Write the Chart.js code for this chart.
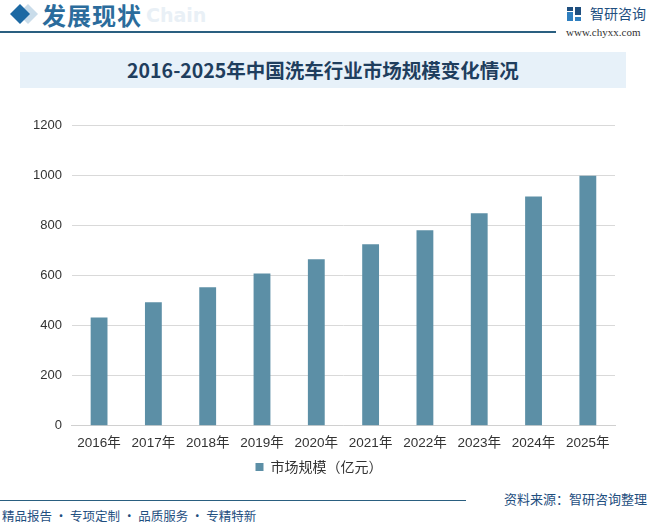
<!DOCTYPE html>
<html>
<head>
    <meta charset="utf-8">
    <title>洗车行业市场规模</title>
    <script src="https://cdn.jsdelivr.net/npm/chart.js"></script>
    <style>
        body { margin: 0; width: 648px; height: 524px; position: relative; background: #fff; font-family: "Noto Sans CJK SC", sans-serif; overflow: hidden; }
        .abs { position: absolute; }
        .head-title { left: 42px; top: -3px; font-size: 24px; font-weight: bold; color: #2b6c9c; letter-spacing: 1px; }
        .head-ghost { left: 146px; top: 4px; font-size: 19px; font-weight: bold; color: #e9f0f6; font-family: "DejaVu Sans", sans-serif; }
        .head-line { left: 0; top: 31px; width: 556px; height: 2px; background: #2a5f80; }
        .logo-text { left: 590px; top: 3px; font-size: 14px; color: #1f4f7f; }
        .logo-url { left: 566px; top: 26px; font-size: 11px; color: #333; font-family: "Liberation Serif", serif; }
        .title-box { left: 20px; top: 52px; width: 606px; height: 36px; background: #e7f1f9; text-align: center; line-height: 36px; font-size: 19.5px; font-weight: bold; color: #1f3e5e; font-family: "Noto Sans CJK SC", serif; }
        .foot-line { left: 0; top: 500px; width: 466px; height: 1px; background: #2a5f80; }
        .foot-src { left: 504px; top: 489px; font-size: 13px; color: #1f4f7f; }
        .foot-slogan { left: 2px; top: 506px; font-size: 12.5px; color: #1f4f7f; }
        #chartBox { left: 0; top: 108px; width: 648px; height: 380px; }
    </style>
</head>
<body>
    <svg class="abs" style="left:8px;top:2px" width="34" height="24">
        <polygon points="20,2 30,12 20,22 10,12" fill="#c9dcea"/>
        <polygon points="12,2 22,12 12,22 2,12" fill="#1d69a3"/>
    </svg>
    <div class="abs head-title">发展现状</div>
    <div class="abs head-ghost">Chain</div>
    <div class="abs head-line"></div>
    <svg class="abs" style="left:567px;top:7px" width="14" height="14">
        <rect x="0" y="0" width="6" height="4" fill="#1f4f7f"/>
        <rect x="0" y="5" width="6" height="9" fill="#2f7fbf"/>
        <rect x="8" y="0" width="6" height="8" fill="#1f4f7f"/>
        <rect x="8" y="10" width="6" height="4" fill="#2f7fbf"/>
    </svg>
    <div class="abs logo-text">智研咨询</div>
    <div class="abs logo-url">www.chyxx.com</div>
    <div class="abs title-box">2016-2025年中国洗车行业市场规模变化情况</div>

    <div class="abs" id="chartBox"><canvas id="marketChart"></canvas></div>

    <div class="abs foot-line"></div>
    <div class="abs foot-src">资料来源：智研咨询整理</div>
    <div class="abs foot-slogan">精品报告 · 专项定制 · 品质服务 · 专精特新</div>

    <script>
        // 数据
        const years = ['2016年', '2017年', '2018年', '2019年', '2020年', '2021年', '2022年', '2023年', '2024年', '2025年'];
        const marketSize = [433, 494, 554, 609, 666, 726, 782, 850, 917, 1000];
        const seriesName = '市场规模（亿元）';
        const yMax = 1200;
        const yStep = 200;

        const ctx = document.getElementById('marketChart').getContext('2d');
        new Chart(ctx, {
            type: 'bar',
            data: {
                labels: years,
                datasets: [{
                    label: seriesName,
                    data: marketSize,
                    backgroundColor: '#5c8fa6',
                    categoryPercentage: 1,
                    barPercentage: 0.31
                }]
            },
            options: {
                responsive: true,
                maintainAspectRatio: false,
                animation: false,
                layout: { padding: { left: 23, right: 33, top: 10, bottom: 4 } },
                plugins: {
                    legend: {
                        position: 'bottom',
                        labels: { boxWidth: 8, boxHeight: 8, padding: 8, color: '#333', font: { size: 14, family: 'Noto Sans CJK SC' } }
                    },
                    tooltip: { enabled: false }
                },
                scales: {
                    x: {
                        grid: { display: false },
                        border: { color: '#d0d0d0' },
                        ticks: { color: '#333', padding: 1, font: { size: 13.5, family: 'Liberation Sans, Noto Sans CJK SC' }, maxRotation: 0 }
                    },
                    y: {
                        min: 0, max: yMax,
                        grid: { color: '#d9d9d9', drawTicks: false },
                        border: { display: false },
                        ticks: { stepSize: yStep, color: '#333', padding: 10, font: { size: 13, family: 'Liberation Sans' },
                                 callback: v => String(v) }
                    }
                }
            }
        });
    </script>
</body>
</html>
